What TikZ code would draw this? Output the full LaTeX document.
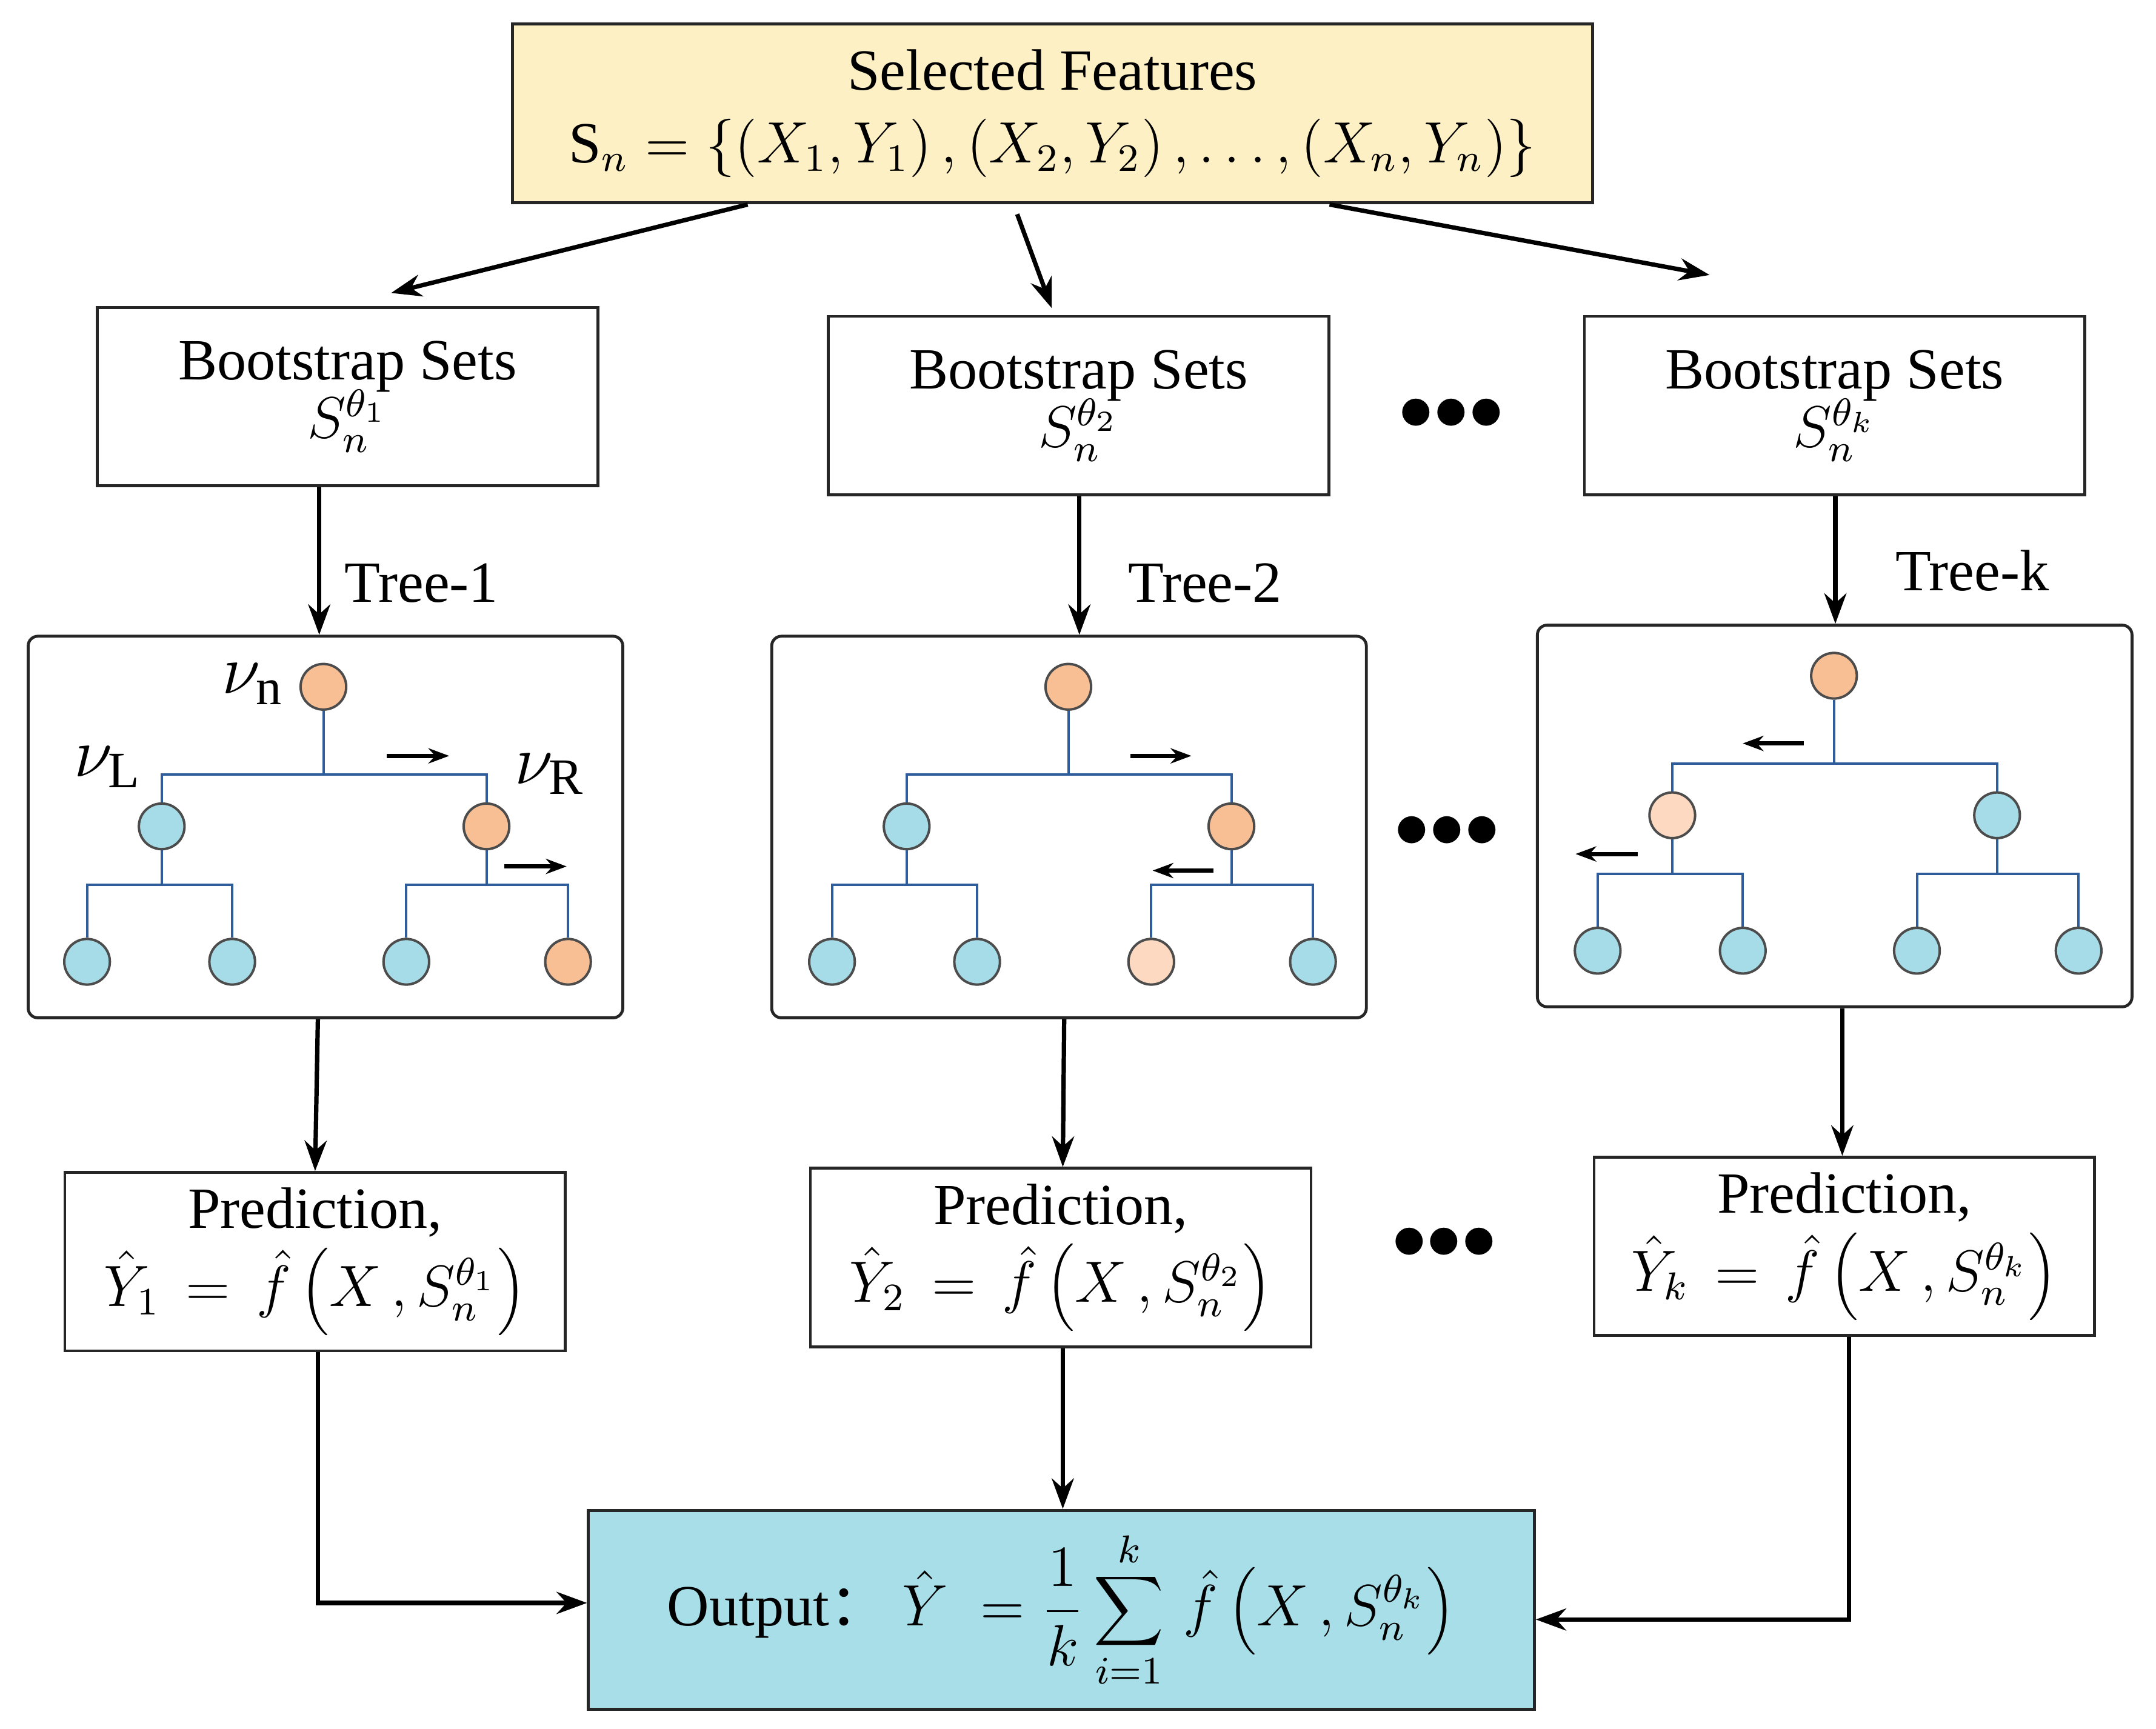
\documentclass[tikz,border=0pt]{standalone}
\usepackage{fontspec}
\setmainfont{Liberation Serif}
\newfontfamily\cjk{Noto Sans CJK SC}
\usetikzlibrary{arrows.meta}
\definecolor{yel}{HTML}{FDF0C4}
\definecolor{cyanbox}{HTML}{A8DEE8}
\definecolor{orn}{HTML}{F8BE94}
\definecolor{lorn}{HTML}{FCD9C0}
\definecolor{blu}{HTML}{A6DCE8}
\definecolor{tline}{HTML}{2F5D9B}
\tikzset{
 box/.style={draw=black!85,line width=0.6pt,minimum width=3.62cm,minimum height=1.29cm,align=center,inner sep=0pt,font=\fontsize{12}{14}\selectfont},
 tbox/.style={draw=black!85,line width=0.6pt,rounded corners=2pt,minimum width=4.3cm,minimum height=2.76cm},
 ar/.style={-{Stealth[length=2.2mm,width=1.6mm]},line width=0.9pt},
 sar/.style={-{Stealth[length=1.5mm,width=1.1mm]},line width=0.9pt},
 cn/.style={circle,draw=black!70,line width=0.5pt,minimum size=0.33cm,inner sep=0pt},
 tl/.style={draw=tline,line width=0.5pt},
 lab/.style={font=\fontsize{12}{14}\selectfont},
 dots/.style={font=\fontsize{14}{14}\selectfont}
}
\newcommand\mydots{$\bullet\mkern-4mu\bullet\mkern-4mu\bullet$}
\newcommand\mytree[8]{%
 \begin{scope}[shift={(#2,#3)}]
 \node[cn,fill=orn] (#1r) at (0,0) {};
 \node[cn,fill=#4] (#1a) at (-117,101) {};
 \node[cn,fill=#5] (#1b) at (118,101) {};
 \node[cn,fill=blu] (#1c) at (-171,199) {};
 \node[cn,fill=#6] (#1d) at (-66,199) {};
 \node[cn,fill=#7] (#1e) at (60,199) {};
 \node[cn,fill=#8] (#1f) at (177,199) {};
 \path (#1r.south) ++(0,46) coordinate (#1h);
 \path (#1a.south) ++(0,25) coordinate (#1ha);
 \path (#1b.south) ++(0,25) coordinate (#1hb);
 \end{scope}
 \draw[tl] (#1r.south) -- (#1h) -| (#1a.north);
 \draw[tl] (#1h) -| (#1b.north);
 \draw[tl] (#1a.south) -- (#1ha) -| (#1c.north);
 \draw[tl] (#1ha) -| (#1d.north);
 \draw[tl] (#1b.south) -- (#1hb) -| (#1e.north);
 \draw[tl] (#1hb) -| (#1f.north);
}
\begin{document}
\begin{tikzpicture}[x=0.01cm,y=-0.01cm]
\useasboundingbox (0,0) rectangle (1560,1251);
\node[box,fill=yel,minimum width=7.81cm] (top) at (761.5,82) {Selected Features\\[1pt]
$\mathrm{S}_n=\left\{\left(X_1,Y_1\right),\left(X_2,Y_2\right),\ldots,\left(X_n,Y_n\right)\right\}$};
\node[box] (b1) at (251.5,287) {Bootstrap Sets\\[-2pt]{\large $S_n^{\theta_1}$}};
\node[box] (b2) at (780.5,293.5) {Bootstrap Sets\\[-2pt]{\large $S_n^{\theta_2}$}};
\node[box] (b3) at (1327.5,293.5) {Bootstrap Sets\\[-2pt]{\large $S_n^{\theta_k}$}};
\coordinate (t1) at (541,148); \coordinate (t2) at (736,155); \coordinate (t3) at (962,148);
\coordinate (e1) at (283,212); \coordinate (e2) at (761,223); \coordinate (e3) at (1237,199);
\draw[ar] (t1) -- (e1);
\draw[ar] (t2) -- (e2);
\draw[ar] (t3) -- (e3);
\node[dots] (d1) at (1050,300) {\mydots};
\node[dots] (d2) at (1047,602) {\mydots};
\node[dots] (d3) at (1045,900) {\mydots};
\node[tbox] (tr1) at (235.5,598.5) {};
\node[tbox] (tr2) at (773.5,598.5) {};
\node[tbox] (tr3) at (1327.5,590.5) {};
\draw[ar] (b1.south -| 231,0) -- (tr1.north -| 231,0);
\draw[ar] (b2.south -| 781,0) -- (tr2.north -| 781,0);
\draw[ar] (b3.south -| 1328,0) -- (tr3.north -| 1328,0);
\node[lab] (l1) at (305,422) {Tree-1};
\node[lab] (l2) at (872,422) {Tree-2};
\node[lab] (l3) at (1427,413) {Tree-k};
\mytree{p}{234}{497}{blu}{orn}{blu}{blu}{orn}
\mytree{q}{773}{497}{blu}{orn}{blu}{lorn}{blu}
\mytree{s}{1327}{489}{lorn}{blu}{blu}{blu}{blu}
\node[lab,font=\fontsize{15}{15}\selectfont] (vn) at (183,495) {$\nu_{\mathrm{n}}$};
\node[lab,font=\fontsize{15}{15}\selectfont] (vl) at (78,555) {$\nu_{\mathrm{L}}$};
\node[lab,font=\fontsize{15}{15}\selectfont] (vr) at (398,560) {$\nu_{\mathrm{R}}$};
\draw[sar] (280,547) -- (325,547);
\draw[sar] (365,627) -- (410,627);
\draw[sar] (818,547) -- (862,547);
\draw[sar] (878,630) -- (834,630);
\draw[sar] (1305,538) -- (1261,538);
\draw[sar] (1185,618) -- (1140,618);
\node[box] (p1) at (228,913) {Prediction,\\[2pt]$\hat{Y}_1\,=\,\hat{f}\left(X\,,S_n^{\theta_1}\right)$};
\node[box] (p2) at (767.5,910) {Prediction,\\[2pt]$\hat{Y}_2\,=\,\hat{f}\left(X\,,S_n^{\theta_2}\right)$};
\node[box] (p3) at (1334.5,902) {Prediction,\\[2pt]$\hat{Y}_k\,=\,\hat{f}\left(X\,,S_n^{\theta_k}\right)$};
\draw[ar] (tr1.south -| 230,0) -- (p1.north -| 228,0);
\draw[ar] (tr2.south -| 770,0) -- (p2.north -| 769,0);
\draw[ar] (tr3.south -| 1333,0) -- (p3.north -| 1333,0);
\node[box,fill=cyanbox,minimum width=6.84cm,minimum height=1.44cm] (out) at (768,1165)
 {Output{\cjk ：}\ $\displaystyle\hat{Y}\;=\frac{1}{k}\sum_{i=1}^{k}\,\hat{f}\left(X\,,S_n^{\theta_k}\right)$};
\draw[ar] (p1.south -| 230,0) |- (out.west |- 0,1160);
\draw[ar] (p2.south -| 769,0) -- (out.north -| 769,0);
\draw[ar] (p3.south -| 1338,0) |- (out.east |- 0,1172);
\end{tikzpicture}
\end{document}
